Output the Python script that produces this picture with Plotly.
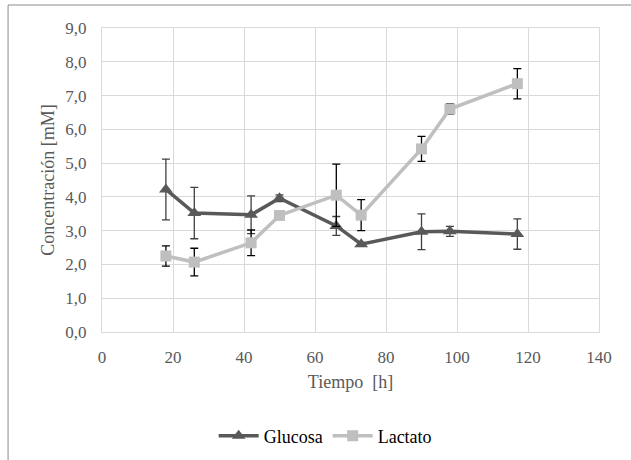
import plotly.graph_objects as go

tiempo = [18, 26, 42, 50, 66, 73, 90, 98, 117]
glucosa = [4.22, 3.52, 3.47, 3.96, 3.14, 2.60, 2.97, 2.98, 2.90]
glucosa_err = [0.90, 0.76, 0.56, 0.10, 0.28, 0.05, 0.53, 0.15, 0.45]
lactato = [2.25, 2.07, 2.64, 3.45, 4.05, 3.46, 5.42, 6.60, 7.35]
lactato_err = [0.30, 0.41, 0.38, 0.05, 0.92, 0.46, 0.37, 0.15, 0.45]

x_ticks = [0, 20, 40, 60, 80, 100, 120, 140]
y_ticks = [0, 1, 2, 3, 4, 5, 6, 7, 8, 9]

FONT = "Liberation Serif"

fig = go.Figure()
fig.add_trace(go.Scatter(
    x=tiempo, y=glucosa, name="Glucosa", mode="lines+markers",
    line=dict(color="#595959", width=3.5),
    marker=dict(symbol="triangle-up", size=12, color="#595959"),
    error_y=dict(type="data", array=glucosa_err, visible=True,
                 color="#404040", thickness=1.3, width=4),
))
fig.add_trace(go.Scatter(
    x=tiempo, y=lactato, name="Lactato", mode="lines+markers",
    line=dict(color="#bfbfbf", width=3.5),
    marker=dict(symbol="square", size=11, color="#bfbfbf"),
    error_y=dict(type="data", array=lactato_err, visible=True,
                 color="#000000", thickness=1.3, width=4),
))

fig.update_layout(
    width=631, height=460,
    margin=dict(l=102, r=32, t=28, b=128, autoexpand=False),
    paper_bgcolor="white", plot_bgcolor="white",
    separators=",.",
    font=dict(family=FONT, size=17, color="#595959"),
    showlegend=True,
    legend=dict(orientation="h", x=0.449, xanchor="center", y=-0.342, yanchor="middle",
                font=dict(family=FONT, size=18, color="#000000"),
                itemwidth=40, tracegroupgap=0),
    shapes=[dict(type="rect", xref="paper", yref="paper",
                 x0=-0.189, x1=1.09, y0=-0.46, y1=1.0757,
                 line=dict(color="#8c8c8c", width=1), fillcolor="rgba(0,0,0,0)",
                 layer="below")],
)
fig.update_xaxes(
    range=[0, 140], tickvals=x_ticks, showgrid=True, gridcolor="#d9d9d9", gridwidth=1,
    showline=True, linecolor="#d9d9d9", mirror=True, zeroline=False, automargin=False,
    ticks="", ticklabelstandoff=10, tickfont=dict(family=FONT, size=17, color="#595959"),
    title=dict(text="Tiempo  [h]", font=dict(family=FONT, size=18, color="#595959"), standoff=8),
)
fig.update_yaxes(
    range=[0, 9], tickvals=y_ticks, tickformat=".1f", showgrid=True, gridcolor="#d9d9d9", gridwidth=1,
    showline=True, linecolor="#d9d9d9", mirror=True, zeroline=False, automargin=False,
    ticks="", ticklabelstandoff=11, tickfont=dict(family=FONT, size=17, color="#595959"),
    title=dict(text="Concentración [mM]", font=dict(family=FONT, size=18, color="#595959"), standoff=6),
)

fig.write_html("out.html")
